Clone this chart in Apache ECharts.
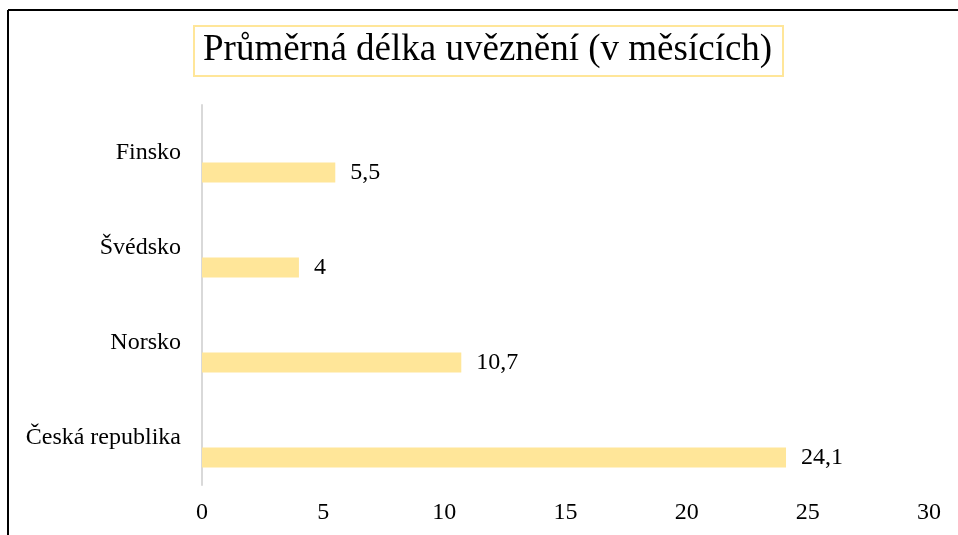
<!DOCTYPE html>
<html>
<head>
<meta charset="utf-8">
<script src="https://cdn.jsdelivr.net/npm/echarts@6/dist/echarts.min.js"></script>
<style>
html,body{margin:0;padding:0;background:#fff;}
#c{width:958px;height:535px;}
</style>
</head>
<body>
<div id="c"></div>
<script>
const titleText = 'Průměrná délka uvěznění (v měsících)';
const categories = ['Česká republika', 'Norsko', 'Švédsko', 'Finsko'];
const values = [24.1, 10.7, 4, 5.5];
const xTicks = [0, 5, 10, 15, 20, 25, 30];

const FONT = "'Times New Roman', 'Liberation Serif', serif";
const chart = echarts.init(document.getElementById('c'));
chart.setOption({
  animation: false,
  backgroundColor: '#fff',
  graphic: [
    { type: 'line', shape: { x1: 8, y1: 10, x2: 958, y2: 10 }, style: { stroke: '#000', lineWidth: 2 } },
    { type: 'line', shape: { x1: 8, y1: 10, x2: 8, y2: 535 }, style: { stroke: '#000', lineWidth: 2 } }
  ],
  title: {
    text: titleText,
    left: 194,
    top: 26,
    borderColor: '#FFE699',
    borderWidth: 2,
    padding: [6, 11, 7, 9],
    textStyle: { fontFamily: FONT, fontSize: 37, fontWeight: 'normal', color: '#000' }
  },
  grid: { left: 202, right: 29, top: 105, bottom: 50, containLabel: false },
  xAxis: {
    type: 'value',
    min: xTicks[0],
    max: xTicks[xTicks.length - 1],
    interval: xTicks[1] - xTicks[0],
    axisLine: { show: false },
    axisTick: { show: false },
    splitLine: { show: false },
    axisLabel: { margin: 16, fontFamily: FONT, fontSize: 24, color: '#000' }
  },
  yAxis: {
    type: 'category',
    data: categories,
    axisLine: { show: true, lineStyle: { color: '#D9D9D9', width: 2 } },
    axisTick: { show: false },
    axisLabel: { margin: 21, fontFamily: FONT, fontSize: 24, color: '#000' }
  },
  series: [
    {
      type: 'bar',
      data: categories.map(() => null),
      barWidth: 20,
      barGap: '100%',
      silent: true
    },
    {
      type: 'bar',
      data: values,
      barWidth: 20,
      barGap: '100%',
      itemStyle: { color: '#FFE699' },
      label: {
        show: true,
        position: 'right',
        distance: 15,
        fontFamily: FONT,
        fontSize: 24,
        color: '#000',
        formatter: p => String(p.value).replace('.', ',')
      }
    }
  ]
});
</script>
</body>
</html>
